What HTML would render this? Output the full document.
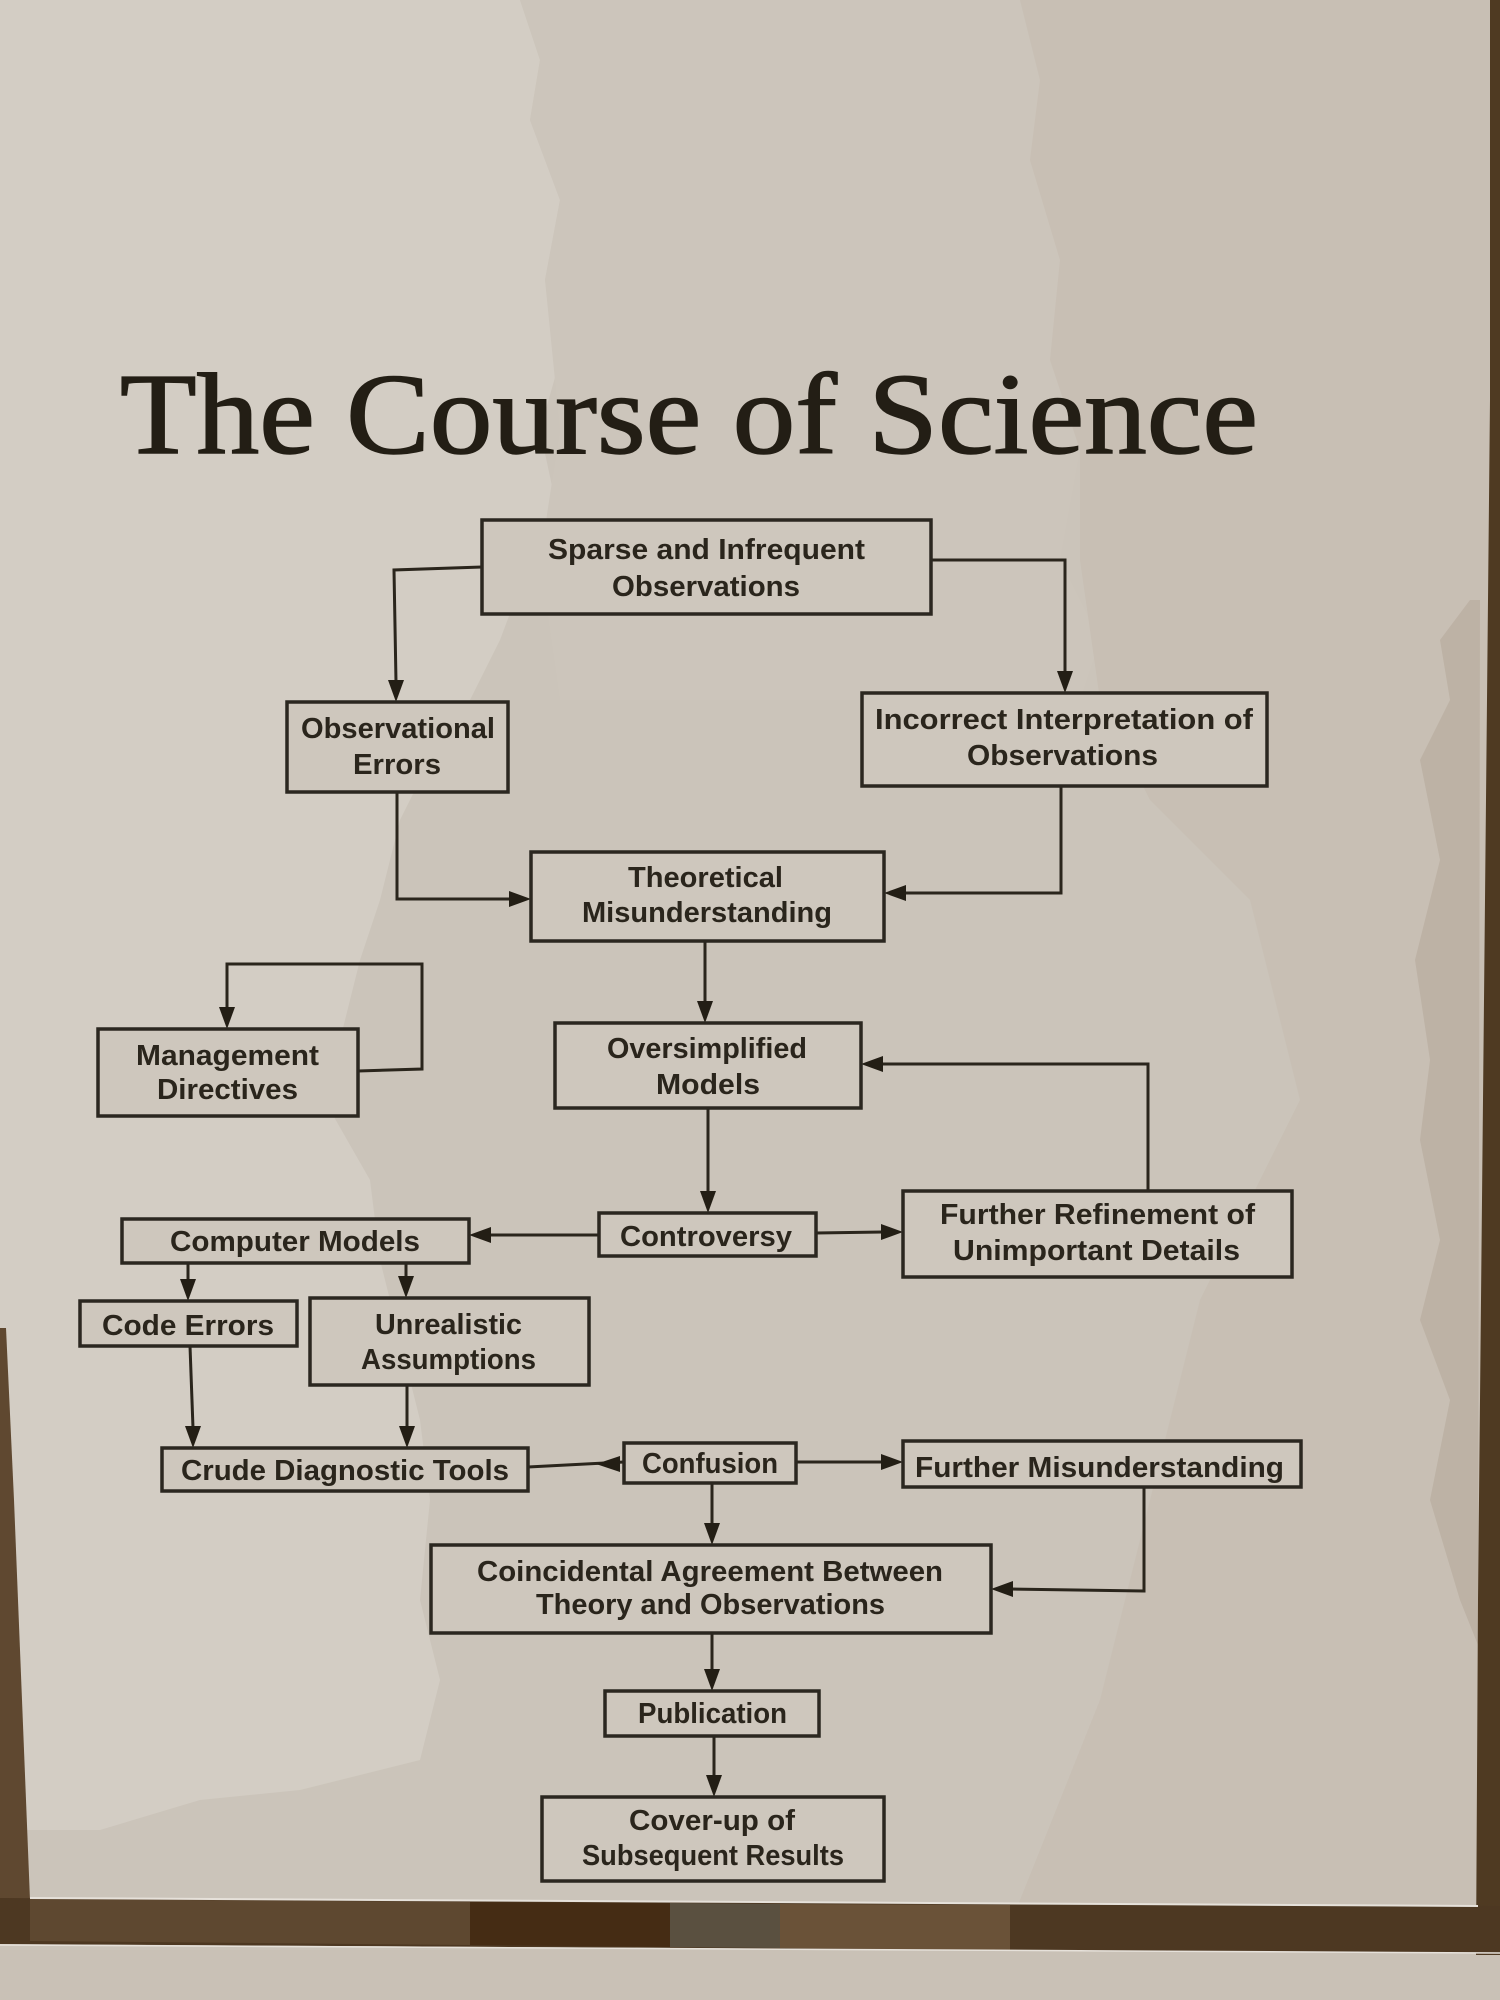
<!DOCTYPE html>
<html>
<head>
<meta charset="utf-8">
<style>
html,body{margin:0;padding:0;width:1500px;height:2000px;overflow:hidden;background:#cbc4ba;}
svg{display:block;}
.t{font-family:"Liberation Sans",Arial,sans-serif;font-weight:bold;font-size:29px;fill:#2a251c;}
.title{font-family:"Liberation Serif","Times New Roman",serif;font-size:116px;fill:#231e15;stroke:#231e15;stroke-width:1.5px;}
.box{fill:#cec7bd;stroke:#2b2720;stroke-width:3.5;}
.ln{fill:none;stroke:#2a251c;stroke-width:3;stroke-linejoin:miter;}
.ah{fill:#231e15;}
</style>
</head>
<body>
<svg width="1500" height="2000" viewBox="0 0 1500 2000" xmlns="http://www.w3.org/2000/svg">
  <rect x="0" y="0" width="1500" height="2000" fill="#cbc4ba"/>
  <polygon fill="#d3cdc4" points="0,0 520,0 540,60 530,120 560,200 545,280 560,360 540,430 555,500 530,560 500,640 470,700 430,760 400,820 380,900 360,960 340,1040 330,1110 370,1180 380,1260 400,1340 420,1420 430,1500 420,1600 440,1680 420,1760 300,1790 200,1800 100,1830 0,1830"/>
  <polygon fill="#ccc5bb" points="520,0 1020,0 1040,80 1030,160 1060,260 1050,360 1080,450 1060,560 1100,640 1080,700 1000,700 900,700 560,700 540,560 560,430 545,280 560,200 530,120 540,60"/>
  <polygon fill="#c8bfb4" points="1020,0 1500,0 1500,1950 1000,1950 1100,1700 1150,1500 1200,1300 1300,1100 1250,900 1150,800 1100,700 1080,560 1080,450 1050,360 1060,260 1030,160 1040,80"/>
  <polygon fill="#bdb2a5" points="1480,600 1470,600 1440,640 1450,700 1420,760 1440,860 1415,960 1430,1060 1420,1140 1440,1240 1420,1320 1450,1400 1430,1500 1460,1600 1478,1645"/>
  <rect x="0" y="1950" width="1500" height="50" fill="#c9c1b6"/>
  <polygon fill="#4f3a22" points="1490,0 1500,0 1500,1955 1476,1955 1478,1600 1482,1200 1486,800 1490,400"/>
  <polygon fill="#5f4830" points="0,1328 6,1328 14,1500 22,1700 30,1900 0,1900"/>
  <polygon fill="#4d3822" points="0,1898 1500,1906 1500,1953 0,1944"/>
  <polygon fill="#5e4830" points="30,1899 470,1902 470,1945 30,1941"/>
  <polygon fill="#452c14" points="470,1902 670,1903 670,1947 470,1945"/>
  <polygon fill="#5a5040" points="670,1903 780,1904 780,1948 670,1947"/>
  <polygon fill="#6a5238" points="780,1904 1010,1905 1010,1950 780,1948"/>
  <line x1="30" y1="1898" x2="1478" y2="1906" stroke="#e6e1da" stroke-width="2"/>
  <line x1="0" y1="1945" x2="1500" y2="1953" stroke="#e6e1da" stroke-width="1.5"/>

  <text class="title" x="120" y="453" textLength="1138" lengthAdjust="spacingAndGlyphs">The Course of Science</text>

  <polyline class="ln" points="482,567 394,570 396,682"/>
  <polygon class="ah" points="388,680 404,680 396,702"/>
  <polyline class="ln" points="931,560 1065,560 1065,673"/>
  <polygon class="ah" points="1057,671 1073,671 1065,693"/>
  <polyline class="ln" points="397,792 397,899 511,899"/>
  <polygon class="ah" points="509,891 509,907 531,899"/>
  <polyline class="ln" points="1061,786 1061,893 904,893"/>
  <polygon class="ah" points="906,885 906,901 884,893"/>
  <polyline class="ln" points="705,941 705,1003"/>
  <polygon class="ah" points="697,1001 713,1001 705,1023"/>
  <polyline class="ln" points="358,1071 422,1069 422,964 227,964 227,1009"/>
  <polygon class="ah" points="219,1007 235,1007 227,1029"/>
  <polyline class="ln" points="708,1108 708,1193"/>
  <polygon class="ah" points="700,1191 716,1191 708,1213"/>
  <polyline class="ln" points="599,1235 489,1235"/>
  <polygon class="ah" points="491,1227 491,1243 469,1235"/>
  <polyline class="ln" points="816,1233 883,1232"/>
  <polygon class="ah" points="881,1224 881,1240 903,1232"/>
  <polyline class="ln" points="1148,1191 1148,1064 881,1064"/>
  <polygon class="ah" points="883,1056 883,1072 861,1064"/>
  <polyline class="ln" points="188,1263 188,1281"/>
  <polygon class="ah" points="180,1279 196,1279 188,1301"/>
  <polyline class="ln" points="406,1263 406,1278"/>
  <polygon class="ah" points="398,1276 414,1276 406,1298"/>
  <polyline class="ln" points="190,1346 193,1428"/>
  <polygon class="ah" points="185,1426 201,1426 193,1448"/>
  <polyline class="ln" points="407,1385 407,1428"/>
  <polygon class="ah" points="399,1426 415,1426 407,1448"/>
  <polyline class="ln" points="624,1462 528,1467"/>
  <polygon class="ah" points="620,1456 620,1472 596,1464"/>
  <polyline class="ln" points="796,1462 883,1462"/>
  <polygon class="ah" points="881,1454 881,1470 903,1462"/>
  <polyline class="ln" points="712,1483 712,1525"/>
  <polygon class="ah" points="704,1523 720,1523 712,1545"/>
  <polyline class="ln" points="1144,1487 1144,1591 1011,1589"/>
  <polygon class="ah" points="1013,1581 1013,1597 991,1589"/>
  <polyline class="ln" points="712,1633 712,1671"/>
  <polygon class="ah" points="704,1669 720,1669 712,1691"/>
  <polyline class="ln" points="714,1736 714,1777"/>
  <polygon class="ah" points="706,1775 722,1775 714,1797"/>

  <rect class="box" x="482" y="520" width="449" height="94"/>
  <rect class="box" x="287" y="702" width="221" height="90"/>
  <rect class="box" x="862" y="693" width="405" height="93"/>
  <rect class="box" x="531" y="852" width="353" height="89"/>
  <rect class="box" x="98" y="1029" width="260" height="87"/>
  <rect class="box" x="555" y="1023" width="306" height="85"/>
  <rect class="box" x="599" y="1213" width="217" height="43"/>
  <rect class="box" x="903" y="1191" width="389" height="86"/>
  <rect class="box" x="122" y="1219" width="347" height="44"/>
  <rect class="box" x="80" y="1301" width="217" height="45"/>
  <rect class="box" x="310" y="1298" width="279" height="87"/>
  <rect class="box" x="162" y="1448" width="366" height="43"/>
  <rect class="box" x="624" y="1443" width="172" height="40"/>
  <rect class="box" x="903" y="1441" width="398" height="46"/>
  <rect class="box" x="431" y="1545" width="560" height="88"/>
  <rect class="box" x="605" y="1691" width="214" height="45"/>
  <rect class="box" x="542" y="1797" width="342" height="84"/>

  <text class="t" x="548" y="559" textLength="317" lengthAdjust="spacingAndGlyphs">Sparse and Infrequent</text>
  <text class="t" x="612" y="596" textLength="188" lengthAdjust="spacingAndGlyphs">Observations</text>
  <text class="t" x="301" y="738" textLength="194" lengthAdjust="spacingAndGlyphs">Observational</text>
  <text class="t" x="353" y="774" textLength="88" lengthAdjust="spacingAndGlyphs">Errors</text>
  <text class="t" x="875" y="729" textLength="378" lengthAdjust="spacingAndGlyphs">Incorrect Interpretation of</text>
  <text class="t" x="967" y="765" textLength="191" lengthAdjust="spacingAndGlyphs">Observations</text>
  <text class="t" x="628" y="887" textLength="155" lengthAdjust="spacingAndGlyphs">Theoretical</text>
  <text class="t" x="582" y="922" textLength="250" lengthAdjust="spacingAndGlyphs">Misunderstanding</text>
  <text class="t" x="136" y="1065" textLength="183" lengthAdjust="spacingAndGlyphs">Management</text>
  <text class="t" x="157" y="1099" textLength="141" lengthAdjust="spacingAndGlyphs">Directives</text>
  <text class="t" x="607" y="1058" textLength="200" lengthAdjust="spacingAndGlyphs">Oversimplified</text>
  <text class="t" x="656" y="1094" textLength="104" lengthAdjust="spacingAndGlyphs">Models</text>
  <text class="t" x="620" y="1246" textLength="172" lengthAdjust="spacingAndGlyphs">Controversy</text>
  <text class="t" x="940" y="1224" textLength="315" lengthAdjust="spacingAndGlyphs">Further Refinement of</text>
  <text class="t" x="953" y="1260" textLength="287" lengthAdjust="spacingAndGlyphs">Unimportant Details</text>
  <text class="t" x="170" y="1251" textLength="250" lengthAdjust="spacingAndGlyphs">Computer Models</text>
  <text class="t" x="102" y="1335" textLength="172" lengthAdjust="spacingAndGlyphs">Code Errors</text>
  <text class="t" x="375" y="1334" textLength="147" lengthAdjust="spacingAndGlyphs">Unrealistic</text>
  <text class="t" x="361" y="1369" textLength="175" lengthAdjust="spacingAndGlyphs">Assumptions</text>
  <text class="t" x="181" y="1480" textLength="328" lengthAdjust="spacingAndGlyphs">Crude Diagnostic Tools</text>
  <text class="t" x="642" y="1473" textLength="136" lengthAdjust="spacingAndGlyphs">Confusion</text>
  <text class="t" x="915" y="1477" textLength="369" lengthAdjust="spacingAndGlyphs">Further Misunderstanding</text>
  <text class="t" x="477" y="1581" textLength="466" lengthAdjust="spacingAndGlyphs">Coincidental Agreement Between</text>
  <text class="t" x="536" y="1614" textLength="349" lengthAdjust="spacingAndGlyphs">Theory and Observations</text>
  <text class="t" x="638" y="1723" textLength="149" lengthAdjust="spacingAndGlyphs">Publication</text>
  <text class="t" x="629" y="1830" textLength="166" lengthAdjust="spacingAndGlyphs">Cover-up of</text>
  <text class="t" x="582" y="1865" textLength="262" lengthAdjust="spacingAndGlyphs">Subsequent Results</text>
</svg>
</body>
</html>
